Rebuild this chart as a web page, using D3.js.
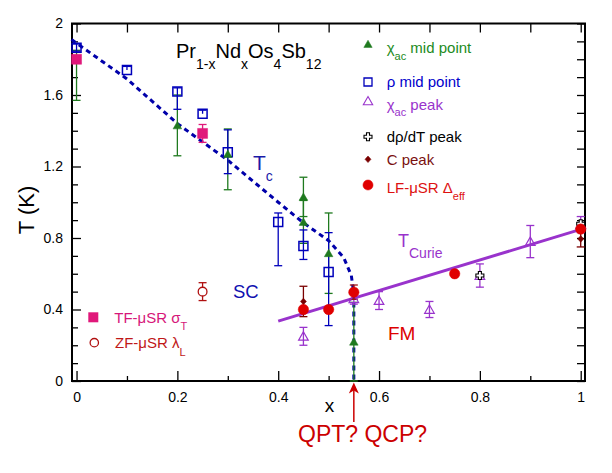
<!DOCTYPE html>
<html><head><meta charset="utf-8">
<script src="https://d3js.org/d3.v7.min.js"></script>
<style>
body{margin:0;background:#fff;}
svg text{font-family:"Liberation Sans",Arial,sans-serif;}
</style></head><body><svg id="c" width="612" height="473"></svg>
<script>
// ---- data ----
const xMajorTicks = [0, 0.2, 0.4, 0.6, 0.8, 1];
const xMinorTicks = [0.1, 0.3, 0.5, 0.7, 0.9];
const yMajorTicks = [0, 0.4, 0.8, 1.2, 1.6, 2];
const yMinorTicks = [0.1,0.2,0.3,0.5,0.6,0.7,0.9,1.0,1.1,1.3,1.4,1.5,1.7,1.8,1.9];

const chiMidX = [0, 0.2, 0.3, 0.45, 0.45, 0.5, 0.55];
const chiMidT = [1.80, 1.43, 1.27, 1.03, 0.89, 0.715, 0.22];
const chiMidErrLo = [0.23, 0.17, 0.20, 0.11, 0.12, 0.225, 0.22];
const chiMidErrHi = [0.05, 0.17, 0.14, 0.11, 0.12, 0.225, 0.22];

const rhoX = [0, 0.1, 0.2, 0.25, 0.3, 0.4, 0.45, 0.5];
const rhoT = [1.865, 1.74, 1.62, 1.495, 1.28, 0.89, 0.755, 0.61];
const rhoErrLo = [0.02, 0.0, 0.10, 0.0, 0.12, 0.245, 0.075, 0.30];
const rhoErrHi = [0.02, 0.02, 0.02, 0.02, 0.125, 0.05, 0.09, 0.22];

const chiPeakX = [0.45, 0.55, 0.6, 0.7, 0.8, 0.9, 1.0];
const chiPeakT = [0.25, 0.46, 0.45, 0.40, 0.59, 0.78, 0.875];
const chiPeakErr = [0.05, 0.03, 0.05, 0.045, 0.065, 0.09, 0.045];

const drhoX = [0.8, 1.0];
const drhoT = [0.59, 0.88];

const cPeakX = [0.45, 1.0];
const cPeakT = [0.445, 0.795];
const cPeakErr = [0.085, 0.045];

const lfX = [0.45, 0.5, 0.55, 0.75, 1.0];
const lfT = [0.40, 0.40, 0.497, 0.60, 0.85];
const lfErr = [0, 0, 0.04, 0, 0];

const tfX = [0, 0.25];
const tfT = [1.80, 1.385];
const tfErr = [0, 0.05];

const zfX = [0.25];
const zfT = [0.50];
const zfErr = [0.05];

const tcLineX = [-0.01, 0.1, 0.2, 0.3, 0.4, 0.45, 0.5, 0.53, 0.545, 0.55, 0.55];
const tcLineT = [1.91, 1.69, 1.44, 1.235, 1.0, 0.885, 0.785, 0.69, 0.59, 0.49, 0.0];

const curieX = [0.4, 1.0];
const curieT = [0.335, 0.848];

// ---- setup ----
const svg = d3.select("#c");
const x = d3.scaleLinear().domain([-0.009, 1.0085]).range([72, 585]);
const y = d3.scaleLinear().domain([0, 2]).range([381, 23.5]);
const F = "Liberation Sans, Arial, sans-serif";

const fmt = d => (d === 0 || d === 1 || d === 2) ? String(d) : d.toFixed(1);

// axes
function styleAxis(g){ g.select(".domain").remove(); g.selectAll("line").attr("stroke","#000").attr("stroke-width",1.3); g.selectAll("text").attr("font-size",14).attr("fill","#000").attr("font-family",F); }
svg.append("g").attr("transform","translate(0,381)").call(d3.axisBottom(x).tickValues(xMajorTicks).tickSizeInner(-10).tickSizeOuter(0).tickPadding(11).tickFormat(fmt)).call(styleAxis);
svg.append("g").attr("transform","translate(0,381)").call(d3.axisBottom(x).tickValues(xMinorTicks).tickSizeInner(-5).tickSizeOuter(0).tickFormat("")).call(styleAxis);
svg.append("g").attr("transform","translate(0,23.5)").call(d3.axisTop(x).tickValues(xMajorTicks.concat(xMinorTicks)).tickSizeInner(-9).tickSizeOuter(0).tickFormat("")).call(styleAxis);
svg.append("g").attr("transform","translate(72,0)").call(d3.axisLeft(y).tickValues(yMajorTicks).tickSizeInner(-9).tickSizeOuter(0).tickPadding(9).tickFormat(fmt)).call(styleAxis);
svg.append("g").attr("transform","translate(72,0)").call(d3.axisLeft(y).tickValues(yMinorTicks).tickSizeInner(-6).tickSizeOuter(0).tickFormat("")).call(styleAxis);
svg.append("g").attr("transform","translate(585,0)").call(d3.axisRight(y).tickValues(yMajorTicks.concat(yMinorTicks)).tickSizeInner(-8).tickSizeOuter(0).tickFormat("")).call(styleAxis);
svg.append("rect").attr("x",72).attr("y",23.5).attr("width",513).attr("height",357.5).attr("fill","none").attr("stroke","#000").attr("stroke-width",2);

// axis titles
svg.append("text").attr("transform","translate(34,210) rotate(-90)").attr("text-anchor","middle").attr("font-size",22).attr("font-family",F).text("T (K)");
svg.append("text").attr("x",329.5).attr("y",411.5).attr("text-anchor","middle").attr("font-size",19).attr("font-family",F).text("x");

// title
const title = svg.append("text").attr("x",176).attr("y",58.3).attr("font-size",20).attr("font-family",F).attr("fill","#000");
[["Pr",0],["1-x",1],["Nd",0],["x",1],["Os",0],["4",1],["Sb",0],["12",1]].forEach(([t,s],i,arr)=>{
  const prev = i>0 ? arr[i-1][1] : 0;
  const ts = title.append("tspan").text(t).attr("font-size", s?14:20);
  const dy = (s && !prev) ? 11 : (!s && prev) ? -11 : 0;
  if (dy) ts.attr("dy", dy);
});

// lines
const lineGen = d3.line().x(d=>x(d[0])).y(d=>y(d[1]));
svg.append("path").datum(curieX.map((v,i)=>[v,curieT[i]])).attr("d",lineGen).attr("fill","none").attr("stroke","#9933cc").attr("stroke-width",3);
svg.append("path").datum(tcLineX.map((v,i)=>[v,tcLineT[i]])).attr("d",lineGen).attr("fill","none").attr("stroke","#0000aa").attr("stroke-width",3).attr("stroke-dasharray","5,4");

// error bar helper
function errBars(xs, ts, lo, hi, color){
  const g = svg.append("g").attr("stroke",color).attr("stroke-width",1.3);
  xs.forEach((xv,i)=>{
    const l = lo[i], h = hi[i];
    if (!l && !h) return;
    const px = x(xv), y0 = y(ts[i]-l), y1 = y(ts[i]+h);
    g.append("line").attr("x1",px).attr("x2",px).attr("y1",y0).attr("y2",y1);
    if (l) g.append("line").attr("x1",px-4).attr("x2",px+4).attr("y1",y0).attr("y2",y0);
    if (h) g.append("line").attr("x1",px-4).attr("x2",px+4).attr("y1",y1).attr("y2",y1);
  });
}
const sym = (type, size) => d3.symbol().type(type).size(size)();
const crossOutline = "M-1.5,-4H1.5V-1.5H4V1.5H1.5V4H-1.5V1.5H-4V-1.5H-1.5Z";

function markers(xs, ts, pathD, fill, stroke, sw, dy){
  svg.append("g").selectAll("path").data(xs).join("path")
    .attr("d", pathD)
    .attr("transform",(d,i)=>`translate(${x(d)},${y(ts[i])+(dy||0)})`)
    .attr("fill",fill).attr("stroke",stroke).attr("stroke-width",sw);
}

// error bars
errBars(chiMidX, chiMidT, chiMidErrLo, chiMidErrHi, "#1f7a1f");
errBars(rhoX, rhoT, rhoErrLo, rhoErrHi, "#0000bb");
errBars(chiPeakX, chiPeakT, chiPeakErr, chiPeakErr, "#9933cc");
errBars(cPeakX, cPeakT, cPeakErr, cPeakErr, "#7a0000");
errBars(lfX, lfT, lfErr, lfErr, "#a01010");
errBars(tfX, tfT, tfErr, tfErr, "#e0187a");
errBars(zfX, zfT, zfErr, zfErr, "#b01010");

// markers
markers(chiPeakX, chiPeakT, sym(d3.symbolTriangle, 40), "none", "#9933cc", 1.2, 1);
markers(rhoX, rhoT, "M-4.5,-4.5H4.5V4.5H-4.5Z", "none", "#0000bb", 1.5);
markers(drhoX, drhoT, crossOutline, "#fff", "#000", 1.1);
markers(chiMidX, chiMidT, sym(d3.symbolTriangle, 32), "#1f7a1f", "#1f7a1f", 0.5, 1);
markers(cPeakX, cPeakT, "M0,-3.3L3,0L0,3.3L-3,0Z", "#7a0000", "#7a0000", 0.5);
markers(lfX, lfT, sym(d3.symbolCircle, 85), "#e00000", "#e00000", 0.5);
markers(tfX, tfT, "M-5,-5H5V5H-5Z", "#e0187a", "#e0187a", 0.5);
markers(zfX, zfT, sym(d3.symbolCircle, 60), "#fff", "#b01010", 1.3);

// region labels
function sublabel(xp, yp, main, sub, size, subSize, color, subDy){
  const t = svg.append("text").attr("x",xp).attr("y",yp).attr("fill",color).attr("font-size",size).attr("font-family",F);
  t.append("tspan").text(main);
  if (sub) t.append("tspan").attr("font-size",subSize).attr("dy",subDy).text(sub);
  return t;
}
sublabel(253, 170, "T", "c", 21, 14, "#1a1aa8", 10.5);
sublabel(398, 246.7, "T", "Curie", 18, 14, "#9933cc", 11.5);
svg.append("text").attr("x",233).attr("y",298.3).attr("font-size",18.5).attr("font-family",F).attr("fill","#1010b0").text("SC");
svg.append("text").attr("x",388).attr("y",340).attr("font-size",19).attr("font-family",F).attr("fill","#dd0000").text("FM");

// legend (top right)
const legendRows = [
  {yM:45, yT:53.3, parts:[["χ",0],["ac",1],[" mid point",0]], color:"#228b22"},
  {yM:82, yT:86.7, parts:[["ρ mid point",0]], color:"#0000cc"},
  {yM:102, yT:109.5, parts:[["χ",0],["ac",1],[" peak",0]], color:"#9933cc"},
  {yM:136.7, yT:141.7, parts:[["dρ/dT peak",0]], color:"#000"},
  {yM:159.3, yT:164.5, parts:[["C peak",0]], color:"#7a1010"},
  {yM:185, yT:193, parts:[["LF-μSR Δ",0],["eff",1]], color:"#dd1111"}
];
const legendMarks = [
  [sym(d3.symbolTriangle, 30), "#1f7a1f", "#1f7a1f", 0.5],
  ["M-4,-4H4V4H-4Z", "none", "#0000bb", 1.3],
  [sym(d3.symbolTriangle, 38), "none", "#9933cc", 1.1],
  [crossOutline, "#fff", "#000", 1.1],
  ["M0,-3.3L3,0L0,3.3L-3,0Z", "#7a0000", "#7a0000", 0.5],
  [sym(d3.symbolCircle, 80), "#e00000", "#e00000", 0.5]
];
legendRows.forEach((r,i)=>{
  const m = legendMarks[i];
  svg.append("path").attr("d",m[0]).attr("transform",`translate(368,${r.yM})`).attr("fill",m[1]).attr("stroke",m[2]).attr("stroke-width",m[3]);
  const t = svg.append("text").attr("x",386.7).attr("y",r.yT).attr("font-size",15).attr("font-family",F).attr("fill",r.color);
  r.parts.forEach(([s,sub],j)=>{
    const prev = j>0 ? r.parts[j-1][1] : 0;
    const ts = t.append("tspan").text(s).attr("font-size", sub?11:15);
    if (sub && !prev) ts.attr("dy",6.5);
    if (!sub && prev) ts.attr("dy",-6.5);
  });
});

// legend (bottom left)
svg.append("path").attr("d","M-5,-5H5V5H-5Z").attr("transform","translate(93.3,317.3)").attr("fill","#e0187a");
sublabel(114.3, 323.3, "TF-μSR σ", "T", 15, 11, "#d6177a", 6.5);
svg.append("path").attr("d",sym(d3.symbolCircle,55)).attr("transform","translate(94.3,342.7)").attr("fill","#fff").attr("stroke","#b01010").attr("stroke-width",1.3);
sublabel(115, 348.3, "ZF-μSR λ", "L", 15, 11, "#c01818", 7.5);

// QPT arrow
const ax = x(0.55);
svg.append("line").attr("x1",ax).attr("x2",ax).attr("y1",422).attr("y2",390).attr("stroke","#cc0000").attr("stroke-width",1.5);
svg.append("path").attr("d",`M${ax},382.5L${ax+5},393.5L${ax},390.5L${ax-5},393.5Z`).attr("fill","#cc0000");
svg.append("text").attr("x",298).attr("y",442).attr("font-size",23).attr("font-family",F).attr("fill","#cc0000").text("QPT? QCP?");
</script></body></html>
